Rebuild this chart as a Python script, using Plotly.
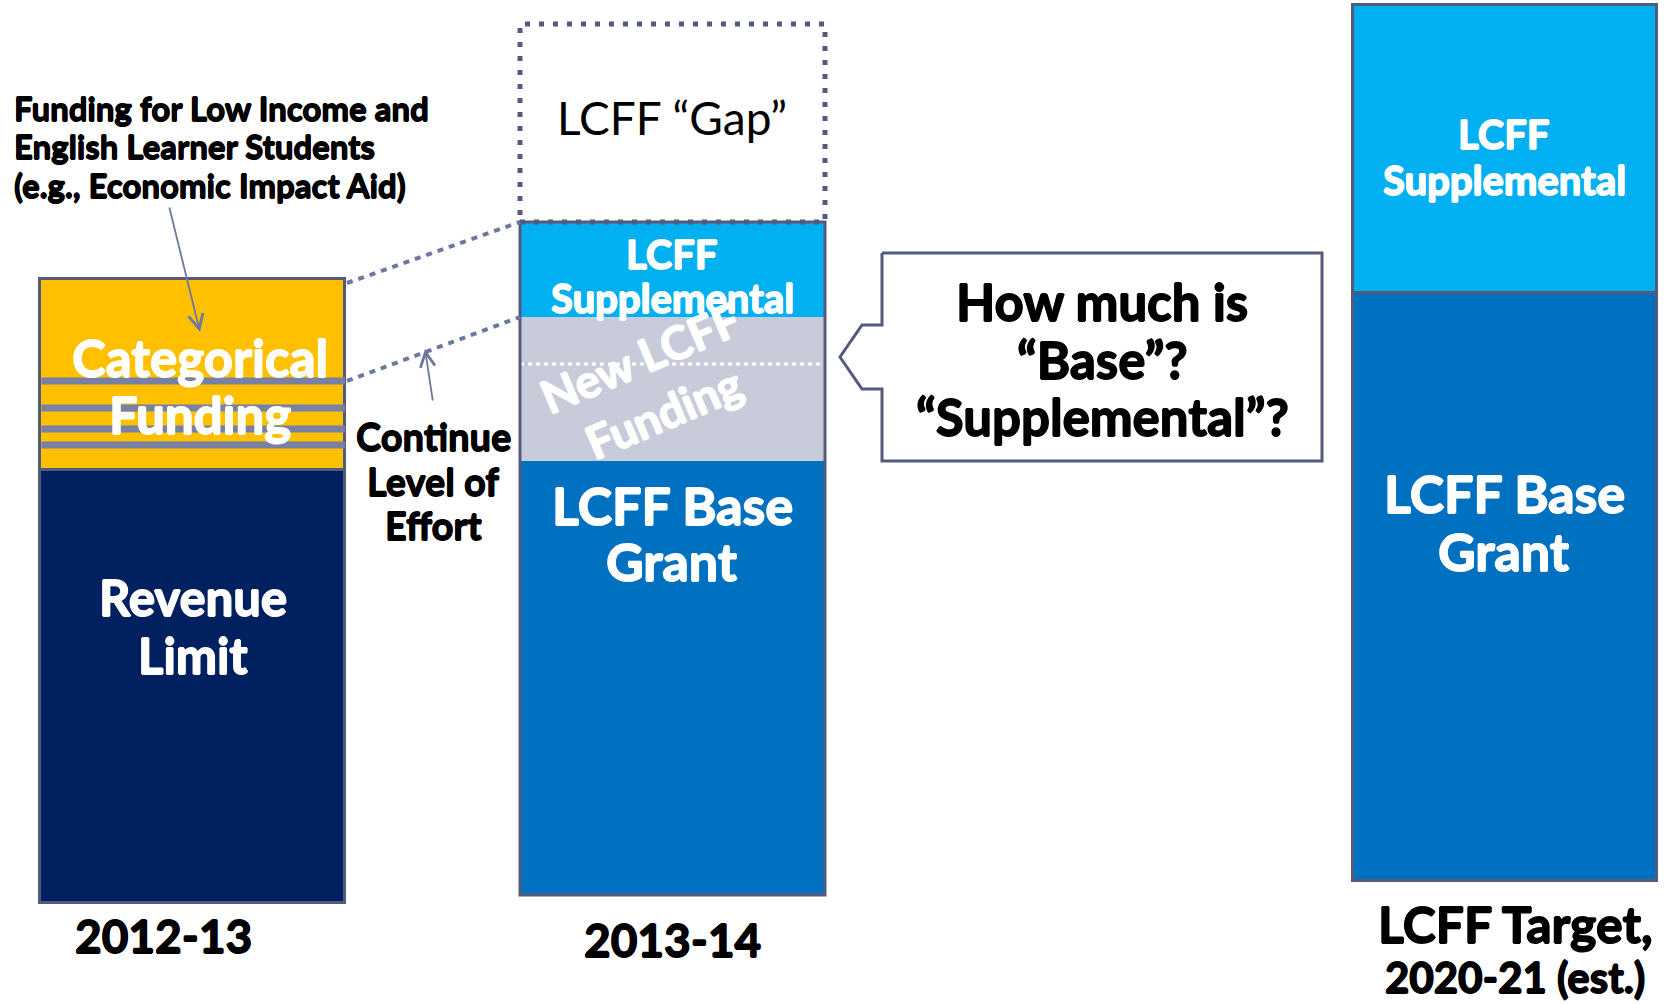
import plotly.graph_objects as go

W, H = 1673, 1004

# ---------------- data ----------------
categories = ["2012-13", "2013-14", "LCFF Target,", "2020-21 (est.)"]

bar1_labels = ["Revenue Limit", "Categorical Funding"]
bar1_values = [433, 191]

bar2_labels = ["LCFF Base Grant", "New LCFF Funding", "LCFF Supplemental", "LCFF \u201cGap\u201d"]
bar2_values = [434, 144, 95, 198]

bar3_labels = ["LCFF Base Grant", "LCFF Supplemental"]
bar3_values = [588, 288]

# ---------------- layout constants ----------------
bar_x = [192.5, 672.5, 1505]
bar_w = [305, 305, 304]
bar_base = [101, 109, 123]

NAVY = "#002060"
YELLOW = "#FFC000"
BLUE = "#0070C0"
LIGHT = "#00B0F0"
GRAY = "#C8CBDA"
BORDER = "#535A7A"
STRIPE = "#7780A5"
CONN = "#6D78A0"
FONT = "Lato"


def Y(py):
    return H - py


fig = go.Figure()

# bar 1
cum = bar_base[0]
for lab, v, c in zip(bar1_labels, bar1_values, [NAVY, YELLOW]):
    fig.add_trace(go.Bar(x=[bar_x[0]], y=[v], base=[cum], width=[bar_w[0]], name=lab,
                         marker=dict(color=c, line=dict(color=BORDER, width=3))))
    cum += v
bar1_top = cum

# bar 2 (no inner borders)
cum = bar_base[1]
bar2_edges = [cum]
for lab, v, c in zip(bar2_labels[:3], bar2_values[:3], [BLUE, GRAY, LIGHT]):
    fig.add_trace(go.Bar(x=[bar_x[1]], y=[v], base=[cum], width=[bar_w[1]], name=lab,
                         marker=dict(color=c, line=dict(width=0))))
    cum += v
    bar2_edges.append(cum)
bar2_top = cum
gap_top = bar2_top + bar2_values[3]

# bar 3
cum = bar_base[2]
for lab, v, c in zip(bar3_labels, bar3_values, [BLUE, LIGHT]):
    fig.add_trace(go.Bar(x=[bar_x[2]], y=[v], base=[cum], width=[bar_w[2]], name=lab,
                         marker=dict(color=c, line=dict(color=BORDER, width=3))))
    cum += v

shapes = []
l2 = bar_x[1] - bar_w[1] / 2
r2 = bar_x[1] + bar_w[1] / 2
l1 = bar_x[0] - bar_w[0] / 2
r1 = bar_x[0] + bar_w[0] / 2

# stripes inside categorical segment (fractions from top)
stripe_fracs = [0.534, 0.675, 0.785, 0.869]
for f in stripe_fracs:
    yy = bar1_top - f * bar1_values[1]
    shapes.append(dict(type="line", xref="x", yref="y", x0=l1 + 1.5, x1=r1, y0=yy, y1=yy,
                       line=dict(color=STRIPE, width=7)))

# white dotted line inside new funding segment
yy = bar2_edges[2] - 0.326 * bar2_values[1]
shapes.append(dict(type="line", xref="x", yref="y", x0=l2, x1=r2, y0=yy, y1=yy,
                   line=dict(color="white", width=3, dash="4px,4px")))

# bar 2 outline
shapes.append(dict(type="rect", xref="x", yref="y", x0=l2, x1=r2, y0=bar_base[1], y1=bar2_top,
                   line=dict(color=BORDER, width=3)))
# gap box
shapes.append(dict(type="rect", xref="x", yref="y", x0=l2, x1=r2, y0=bar2_top, y1=gap_top,
                   line=dict(color=BORDER, width=5, dash="5px,9px")))

# connector dotted lines
first_stripe = bar1_top - stripe_fracs[0] * bar1_values[1]
shapes.append(dict(type="line", xref="x", yref="y", x0=r1 + 2, y0=bar1_top - 4, x1=l2, y1=bar2_top,
                   line=dict(color=CONN, width=4, dash="6px,6px")))
shapes.append(dict(type="line", xref="x", yref="y", x0=r1 + 2, y0=first_stripe, x1=l2, y1=bar2_edges[2],
                   line=dict(color=CONN, width=4, dash="6px,6px")))

# callout polygon
cx = [882, 1322, 1322, 882, 882, 862, 840, 862, 882, 882]
cy = [253, 253, 461, 461, 389, 389, 357, 325, 325, 253]
fig.add_trace(go.Scatter(x=cx, y=[Y(v) for v in cy], mode="lines", fill="toself",
                         fillcolor="white", line=dict(color=BORDER, width=3),
                         hoverinfo="skip", showlegend=False))

ann = []


def heavy(color, d=0.7):
    return (f"{d}px 0px 0px {color}, -{d}px 0px 0px {color}, "
            f"0px {d}px 0px {color}, 0px -{d}px 0px {color}")


def text(x, py, s, size, color="black", bold=True, xanchor="center"):
    f = dict(family=FONT, size=size, color=color, weight=700 if bold else 400)
    if bold:
        f["shadow"] = heavy(color, 0.6 if size < 40 else 0.8)
    ann.append(dict(x=x, y=Y(py), xref="x", yref="y", text=s, showarrow=False,
                    xanchor=xanchor, yanchor="middle", font=f))


# top-left note
for i, s in enumerate(["Funding for Low Income and", "English Learner Students",
                       "(e.g., Economic Impact Aid)"]):
    text(12, [108, 146, 185][i], s, 33, xanchor="left")

# bar 1 labels
text(200, 357, "Categorical", 51, "white")
text(200, 414, "Funding", 51, "white")
text(193, 597, "Revenue", 49, "white")
text(193, 655, "Limit", 49, "white")

# continue level of effort
text(433, 436, "Continue", 38)
text(433, 481, "Level of", 38)
text(433, 525, "Effort", 38)

# bar 2 labels
text(672, 117, bar2_labels[3], 46, bold=False)
text(672, 254, "LCFF", 40, "white")
text(672, 298, "Supplemental", 40, "white")
ann.append(dict(x=651, y=Y(385), xref="x", yref="y", text="New LCFF<br>Funding", showarrow=False,
                textangle=-23, font=dict(family=FONT, size=46, color="white", weight=700,
                                         shadow=heavy("white", 0.8))))
text(672, 505, "LCFF Base", 52, "white")
text(672, 561, "Grant", 52, "white")

# callout text
text(1102, 301, "How much is", 51)
text(1102, 359, "\u201cBase\u201d?", 51)
text(1102, 416, "\u201cSupplemental\u201d?", 51)

# bar 3 labels
text(1504, 134, "LCFF", 40, "white")
text(1504, 180, "Supplemental", 40, "white")
text(1504, 493, "LCFF Base", 52, "white")
text(1504, 551, "Grant", 52, "white")

# category labels
text(163, 935, categories[0], 46)
text(672, 939, categories[1], 46)
text(1515, 924, categories[2], 50)
text(1515, 977, categories[3], 42)

# arrows
for (tx, ty, ax_, ay_) in [(200, 332, 169, 206), (425, 349, 433, 402)]:
    ann.append(dict(x=tx, y=Y(ty), ax=ax_, ay=Y(ay_), xref="x", yref="y", axref="x", ayref="y",
                    text="", showarrow=True, arrowhead=5, arrowsize=1.6, arrowwidth=1.8,
                    arrowcolor=CONN))

fig.update_layout(
    width=W, height=H, margin=dict(l=0, r=0, t=0, b=0),
    paper_bgcolor="white", plot_bgcolor="white",
    barmode="overlay", showlegend=False, bargap=0,
    xaxis=dict(range=[0, W], visible=False, fixedrange=True),
    yaxis=dict(range=[0, H], visible=False, fixedrange=True),
    shapes=shapes, annotations=ann,
)

fig.write_html("out.html", config={"displayModeBar": False},
               post_script="document.body.style.margin='0';document.body.style.overflow='hidden';")
